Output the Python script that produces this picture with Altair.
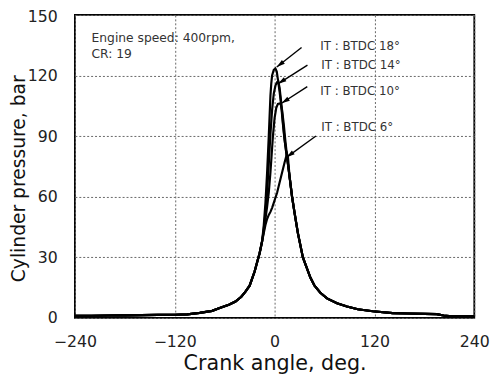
import altair as alt
import pandas as pd
import numpy as np

# Shared compression stroke
comp_x = [-240, -220, -200, -180, -160, -140, -120, -105, -90, -75, -66, -55, -47, -40, -35, -30, -27, -24, -21, -18, -15]
comp_p = [1.0, 1.1, 1.2, 1.3, 1.4, 1.5, 1.6, 1.8, 2.5, 3.5, 4.9, 6.5, 8.1, 10.5, 13, 16, 19.5, 23, 27.6, 32, 38]

# Shared expansion tail
exp_x = [24, 28, 34, 38, 43, 48, 55, 63, 75, 87, 100, 118, 142, 160, 180, 195, 203, 210, 225, 240]
exp_p = [52, 42, 30, 25.5, 20, 16, 12.5, 9.7, 7.3, 5.7, 4.3, 3.3, 2.4, 2.2, 2.0, 1.9, 1.2, 0.9, 0.8, 0.8]

# Combustion part of each injection timing
c18_x = [-13, -11, -9, -7, -5, -4, -3, -1, 1, 2.6, 4, 6, 8, 10, 12, 14, 15, 18, 21]
c18_p = [46, 57, 72, 90, 110, 116, 120, 122.8, 123.5, 122, 118, 112, 105, 96, 88, 82, 79.5, 70, 60]
c14_x = [-13, -11, -9, -7, -5, -3, -1, 1, 3, 4.5, 6, 8, 10, 12, 14, 15, 18, 21]
c14_p = [44, 52, 62, 76, 91, 103, 111, 115, 116.8, 117, 114, 106.5, 97, 88.5, 82, 79.5, 70, 60]
c10_x = [-13, -11, -9, -7, -5, -3, -2, 0, 2, 4, 7, 9, 11, 13, 15, 18, 21]
c10_p = [43, 49, 55, 62, 72, 84, 90, 99, 104, 106, 106.3, 103, 96, 87.5, 80, 70, 60]
c6_x = [-13, -11, -9, -7, -5, -3, -1, 0.6, 3, 6, 9, 12, 14, 15, 16, 18, 21]
c6_p = [42, 46, 49, 51, 52.5, 54.5, 57, 59, 62, 67, 72, 77, 80, 81.2, 80, 70, 60]

series_names = ["BTDC 18", "BTDC 14", "BTDC 10", "BTDC 6"]
series_x = [c18_x, c14_x, c10_x, c6_x]
series_p = [c18_p, c14_p, c10_p, c6_p]

# Annotations
label_text = ["IT : BTDC 18°", "IT : BTDC 14°", "IT : BTDC 10°", "IT : BTDC 6°"]
label_x = [55, 56, 55, 56]
label_y = [134.4, 125.3, 112.5, 94.5]
arrow_x0 = [32.4, 39.5, 39.3, 49.7]
arrow_y0 = [133.9, 125.2, 114.5, 90.1]
arrow_x1 = [2.6, 4.1, 8.3, 14.3]
arrow_y1 = [124.2, 115.9, 106.3, 79.5]

note_text = ["Engine speed: 400rpm,", "CR: 19"]
note_x = [-220, -220]
note_y = [138.8, 130.7]

x_ticks = [-240, -120, 0, 120, 240]
y_ticks = [0, 30, 60, 90, 120, 150]

W, H = 406, 308

rows = []
for name, xs, ps in zip(series_names, series_x, series_p):
    for x, p in zip(comp_x + xs + exp_x, comp_p + ps + exp_p):
        rows.append({"series": name, "crank": x, "p": p})
df = pd.DataFrame(rows)

dx = (np.array(arrow_x1) - np.array(arrow_x0)) * W / 480
dy = -(np.array(arrow_y1) - np.array(arrow_y0)) * H / 150
angles = (np.degrees(np.arctan2(dx, -dy)) + 360) % 360
arr = pd.DataFrame({"x0": arrow_x0, "y0": arrow_y0, "x1": arrow_x1, "y1": arrow_y1, "ang": angles})
lab = pd.DataFrame({"t": label_text, "x": label_x, "y": label_y})
notes = pd.DataFrame({"t": note_text, "x": note_x, "y": note_y})

xs = alt.Scale(domain=[-240, 240], nice=False)
ys = alt.Scale(domain=[0, 150], nice=False)

FONT = "DejaVu Sans"

xaxis = alt.Axis(values=x_ticks, title="Crank angle, deg.", grid=True,
                 ticks=False, domain=False, labelFontSize=16, titleFontSize=21,
                 labelPadding=16, titlePadding=3, titleFontWeight="normal",
                 gridDash=[2, 2], gridColor="#666", labelColor="#222", titleColor="#111",
                 labelFlush=False)
yaxis = alt.Axis(values=y_ticks, title="Cylinder pressure, bar", grid=True,
                 ticks=False, domain=False, labelFontSize=16, titleFontSize=19,
                 labelPadding=18, titleX=-47, titleY=H / 2 + 12, titleAngle=270,
                 titleAlign="center", titleBaseline="bottom", titleFontWeight="normal",
                 labelOffset={"condition": {"test": "datum.value == 150", "value": 2}, "value": 0},
                 gridDash=[2, 2], gridColor="#666", labelColor="#222", titleColor="#111")

lines = alt.Chart(df).mark_line(color="black", strokeWidth=2.2).encode(
    x=alt.X("crank:Q", scale=xs, axis=xaxis),
    y=alt.Y("p:Q", scale=ys, axis=yaxis),
    detail="series:N",
    order="crank:Q",
)

rules = alt.Chart(arr).mark_rule(color="black", strokeWidth=1.4).encode(
    x="x0:Q", y="y0:Q", x2="x1:Q", y2="y1:Q"
)
heads = alt.Chart(arr).mark_point(
    shape="M0,0L-0.5,1.8L0.5,1.8Z", filled=True, color="black", size=90, opacity=1
).encode(x="x1:Q", y="y1:Q", angle=alt.Angle("ang:Q", scale=None))

labels = alt.Chart(lab).mark_text(align="left", baseline="middle", fontSize=12,
                                  font=FONT, color="#333").encode(
    x="x:Q", y="y:Q", text="t:N")
note = alt.Chart(notes).mark_text(align="left", baseline="middle", fontSize=12.5,
                                  font=FONT, color="#333").encode(
    x="x:Q", y="y:Q", text="t:N")

chart = alt.layer(lines, rules, heads, labels, note).properties(
    width=W, height=H,
    autosize=alt.AutoSizeParams(type="none"),
    padding={"left": 68, "top": 4, "right": 18, "bottom": 60},
).configure_view(stroke="black", strokeWidth=1.8).configure_axis(
    labelFont=FONT, titleFont=FONT
)

chart.save("out.html", embed_options={"renderer": "svg", "actions": False})
